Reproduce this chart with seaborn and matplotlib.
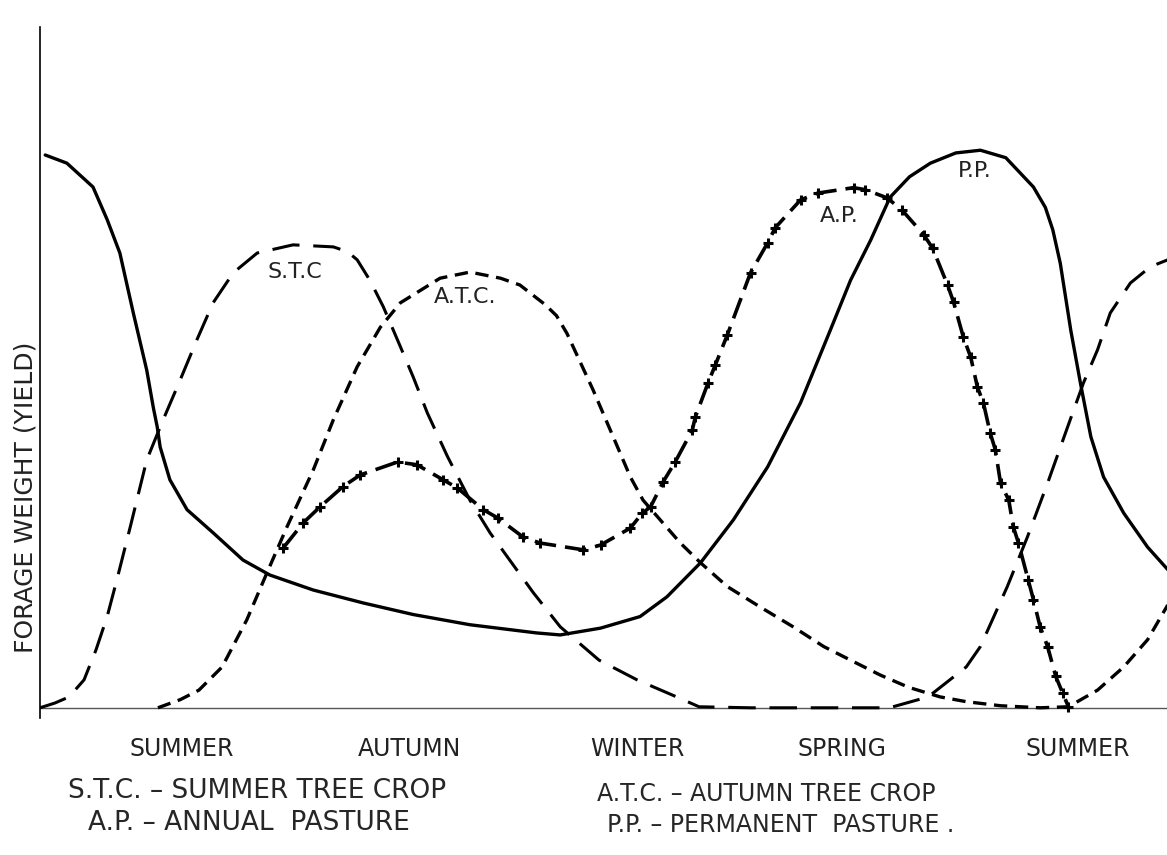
import matplotlib
matplotlib.use("Agg")
import matplotlib.pyplot as plt
import pandas as pd
import seaborn as sns

# x = months from the start of summer, y = forage weight (relative yield)
pp_month = [0.07, 0.36, 0.71, 0.90, 1.07, 1.25, 1.43, 1.52, 1.57, 1.61, 1.74, 1.97, 2.32, 2.72,
            3.08, 3.66, 4.33, 5.00, 5.76, 6.65, 6.97, 7.51, 8.04, 8.40, 8.85, 9.29, 9.75,
            10.19, 10.59, 10.86, 11.13, 11.39, 11.65, 11.93, 12.27, 12.60, 12.94, 13.31, 13.47,
            13.57, 13.67, 13.81, 13.94, 14.08, 14.25, 14.52, 14.84, 15.11]
pp_yield = [81.2, 80.0, 76.5, 71.7, 66.8, 58.0, 49.6, 44.0, 41.3, 38.3, 33.5, 29.1, 25.7, 21.7,
            19.5, 17.3, 15.4, 13.7, 12.2, 11.0, 10.7, 11.7, 13.4, 16.3, 21.3, 27.6, 35.4,
            44.8, 55.5, 62.8, 68.7, 75.0, 78.0, 80.0, 81.5, 81.9, 80.8, 76.5, 73.5,
            70.2, 65.3, 55.5, 47.7, 39.8, 33.9, 28.6, 23.6, 20.3]

stc_month = [0.0, 0.20, 0.39, 0.59, 0.75, 0.90, 1.03, 1.21, 1.43, 1.65, 1.88, 2.10, 2.32,
             2.59, 2.91, 3.39, 3.93, 4.12, 4.25, 4.42, 4.60, 4.83, 5.00, 5.19, 5.46, 5.76, 6.03,
             6.26, 6.61, 6.97, 7.49, 8.00, 8.53, 8.83, 9.52, 10.86, 11.38, 11.90, 12.41,
             12.60, 12.96, 13.23, 13.50, 13.77, 13.98, 14.17, 14.34, 14.61, 14.88, 15.11]
stc_yield = [0.0, 0.7, 1.6, 4.1, 8.5, 13.4, 18.8, 26.6, 36.4, 42.3, 48.2, 54.0, 59.5,
             63.9, 66.8, 68.0, 67.7, 67.0, 65.8, 62.8, 58.9, 53.0, 48.6, 43.3, 36.9, 30.5, 25.7,
             22.2, 16.9, 11.9, 7.0, 4.1, 1.6, 0.15, 0.0, 0.0, 0.0, 1.6, 6.0,
             9.0, 17.8, 25.1, 33.0, 41.3, 47.7, 52.6, 58.0, 62.4, 64.8, 65.8]

atc_month = [1.58, 1.88, 2.13, 2.44, 2.77, 3.04, 3.31, 3.66, 3.93, 4.25, 4.56, 4.83, 5.36,
             5.76, 6.17, 6.43, 6.77, 6.92, 7.06, 7.41, 7.68, 7.91, 8.08, 8.31, 8.58, 8.85, 9.21,
             9.65, 10.09, 10.50, 10.86, 11.26, 11.64, 12.06, 12.41, 12.87, 13.40, 13.78,
             14.17, 14.52, 14.84, 15.11]
atc_yield = [0.0, 1.2, 2.6, 6.0, 12.9, 19.8, 26.6, 34.9, 42.3, 50.1, 55.9, 59.5, 63.1,
             64.0, 63.1, 62.1, 59.2, 57.6, 55.0, 46.7, 39.8, 33.9, 30.5, 27.6, 24.2, 21.3, 17.8,
             14.8, 11.9, 9.0, 7.0, 4.8, 3.0, 1.6, 0.9, 0.3, 0.0, 0.15,
             2.6, 6.0, 10.0, 15.1]

ap_month = [3.26, 3.53, 3.75, 4.06, 4.29, 4.79, 5.05, 5.40, 5.59, 5.94, 6.13, 6.47, 6.70,
            7.28, 7.51, 7.91, 8.07, 8.18, 8.35, 8.51, 8.74, 8.78, 8.95, 9.05, 9.21, 9.52,
            9.75, 9.85, 10.19, 10.42, 10.90, 11.06, 11.35, 11.55, 11.84, 11.96, 12.16,
            12.24, 12.37, 12.47, 12.56, 12.64, 12.73, 12.80, 12.87, 12.98, 13.04, 13.11,
            13.24, 13.31, 13.40, 13.50, 13.61, 13.70, 13.78]
ap_yield = [23.5, 27.2, 29.5, 32.5, 34.2, 36.1, 35.7, 33.5, 32.3, 29.1, 27.9, 25.1, 24.2,
            23.2, 23.9, 26.4, 28.6, 29.5, 33.2, 36.1, 40.8, 42.7, 47.7, 50.4, 54.8, 63.9,
            68.3, 70.5, 74.6, 75.6, 76.4, 76.1, 74.9, 73.1, 69.5, 67.5, 62.1,
            59.6, 54.5, 51.5, 47.1, 44.8, 40.4, 37.9, 33.0, 30.5, 26.6, 24.2,
            18.8, 15.9, 11.9, 9.0, 4.6, 2.2, 0.15]

season_pos = [1.9, 4.95, 8.0, 10.75, 13.9]
season_names = ["SUMMER", "AUTUMN", "WINTER", "SPRING", "SUMMER"]

curve_labels = ["S.T.C", "A.T.C.", "A.P.", "P.P."]
curve_label_x = [3.42, 5.70, 10.71, 12.52]
curve_label_y = [64.0, 60.4, 72.2, 78.9]

key_left = ["S.T.C. \u2013 SUMMER TREE CROP", "A.P. \u2013 ANNUAL  PASTURE"]
key_right = ["A.T.C. \u2013 AUTUMN TREE CROP", "P.P. \u2013 PERMANENT  PASTURE ."]

sns.set_style("white")
plt.rcParams["font.family"] = ["DejaVu Sans"]

fig = plt.figure(figsize=(11.67, 8.55), dpi=100)
ax = fig.add_axes([40 / 1167, 137 / 855, 1127 / 1167, 691 / 855])

pp = pd.DataFrame({"month": pp_month, "yield": pp_yield})
stc = pd.DataFrame({"month": stc_month, "yield": stc_yield})
atc = pd.DataFrame({"month": atc_month, "yield": atc_yield})
ap = pd.DataFrame({"month": ap_month, "yield": ap_yield})

ax.axhline(0, color="#555555", lw=1.0, zorder=1)

line_kw = dict(color="black", estimator=None, sort=False,
               solid_joinstyle="round", dash_joinstyle="round")

sns.lineplot(data=pp, x="month", y="yield", ax=ax, linewidth=2.4, **line_kw)
sns.lineplot(data=stc, x="month", y="yield", ax=ax, linewidth=2.2, **line_kw)
ax.lines[-1].set_dashes((9, 4.5))
sns.lineplot(data=atc, x="month", y="yield", ax=ax, linewidth=2.4, **line_kw)
ax.lines[-1].set_dashes((4, 2.3))
sns.lineplot(data=ap, x="month", y="yield", ax=ax, linewidth=2.6, marker="+",
             markersize=7, markeredgewidth=2.2, markeredgecolor="black", **line_kw)
ax.lines[-1].set_dashes((6, 2.5))

for lab, lx, ly in zip(curve_labels, curve_label_x, curve_label_y):
    ax.text(lx, ly, lab, fontsize=16, ha="center", va="center", color="#222222")

ax.set_xlim(0, 15.1)
ax.set_ylim(-1.5, 100)
ax.set_xticks(season_pos)
ax.set_xticklabels(season_names, fontsize=17, color="#222222")
ax.set_yticks([])
ax.tick_params(axis="x", length=0, pad=14)
ax.set_xlabel("")
ax.set_ylabel("")

for side in ["top", "right", "bottom"]:
    ax.spines[side].set_visible(False)
ax.spines["left"].set_color("black")
ax.spines["left"].set_linewidth(1.2)

fig.text(26 / 1167, 1 - 497 / 855, "FORAGE WEIGHT (YIELD)", rotation=90, fontsize=18,
         ha="center", va="center", color="#222222")

fig.text(68 / 1167, 1 - 791 / 855, key_left[0], fontsize=19, ha="left", va="center")
fig.text(88 / 1167, 1 - 823 / 855, key_left[1], fontsize=19, ha="left", va="center")
fig.text(597 / 1167, 1 - 794 / 855, key_right[0], fontsize=17, ha="left", va="center")
fig.text(607 / 1167, 1 - 825 / 855, key_right[1], fontsize=17, ha="left", va="center")

fig.savefig("out.png", dpi=100)
